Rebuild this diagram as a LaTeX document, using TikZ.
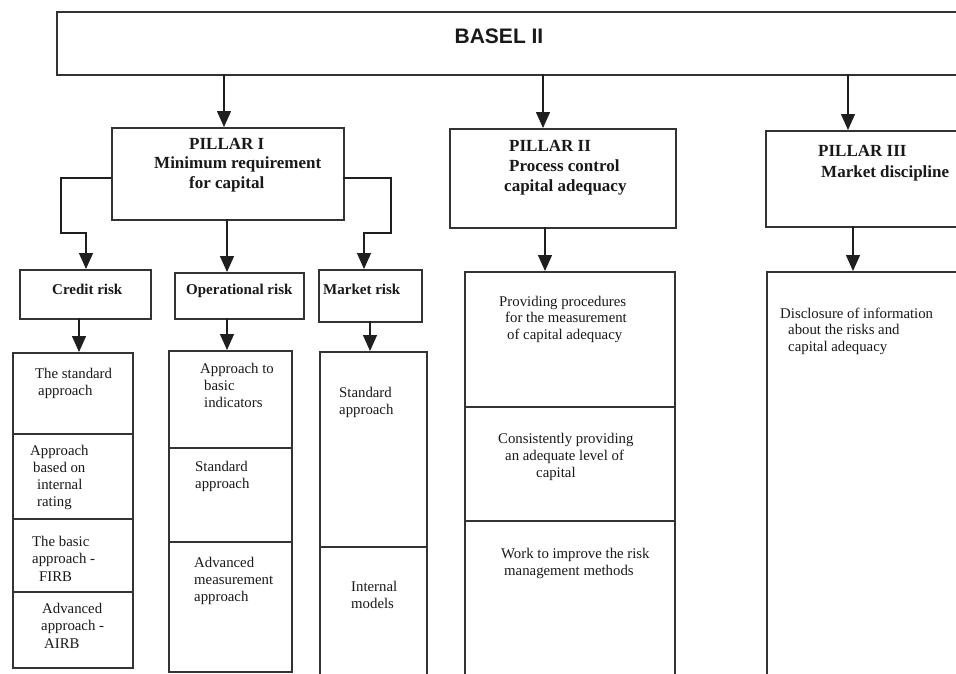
\documentclass[tikz,border=0pt]{standalone}
\usepackage{fontspec}
\setmainfont{Liberation Serif}
\newfontfamily\basefont{Liberation Sans}
\usetikzlibrary{arrows.meta}
\newcommand\tblk[2]{\vtop{\baselineskip=#1pt\lineskiplimit=-100pt\lineskip=0pt #2}}
\newcommand\myln[2]{\hbox{\kern#1pt #2}}
\newcommand\cellat[5]{\node[box, minimum width={(#4)-(#2)}, minimum height={(#5)-(#3)}] (#1) at (#2,#3) {};}
\begin{document}
\begin{tikzpicture}[x=1pt, y=-1pt, line join=miter,
  box/.style={draw=black!80, line width=1.8pt, inner sep=0pt, anchor=north west, fill=none},
  arr/.style={-{Triangle[width=14pt,length=16pt]}, line width=1.4pt, draw=black!88},
  txt/.style={anchor=base west, inner sep=0pt, font=\fontsize{14.8}{17}\selectfont, text=black!90},
  head/.style={anchor=base west, inner sep=0pt, font=\fontsize{17}{20}\selectfont\bfseries, text=black!90},
  risk/.style={anchor=base west, inner sep=0pt, font=\fontsize{15}{17}\selectfont\bfseries, text=black!90}]
\useasboundingbox (0,0) rectangle (956,673);
\clip (0,0) rectangle (956,673);
\fill[white] (0,0) rectangle (956,673);

% top box
\cellat{basel}{56}{11}{990}{74}
\node[anchor=base, inner sep=0pt, font=\basefont\bfseries\fontsize{21}{24}\selectfont, text=black!90] (baseltxt) at (499,43) {BASEL II};

% pillars
\cellat{p1}{111}{127}{343}{219}
\cellat{p2}{449}{128}{675}{227}
\cellat{p3}{765}{130}{995}{226}
\node[head] (p1t) at (189,149) {\tblk{19.5}{\myln{0}{PILLAR I}\myln{-35}{Minimum requirement}\myln{0}{for capital}}};
\node[head] (p2t) at (509,151) {\tblk{20}{\myln{0}{PILLAR II}\myln{0}{Process control}\myln{-5}{capital adequacy}}};
\node[head] (p3t) at (818,156) {\tblk{21}{\myln{0}{PILLAR III}\myln{3}{Market discipline}}};

% risk boxes
\cellat{cr}{19}{269}{150}{318}
\cellat{op}{174}{272}{303}{318}
\cellat{mk}{318}{269}{421}{321}
\node[risk] (crt) at (52,294) {Credit risk};
\node[risk] (opt) at (186,294) {Operational risk};
\node[risk] (mkt) at (323,294) {Market risk};

% credit stack
\cellat{c1}{12}{352}{132}{433}
\cellat{c2}{12}{433}{132}{518}
\cellat{c3}{12}{518}{132}{591}
\cellat{c4}{12}{591}{132}{667}
\node[txt] (c1t) at (35,378) {\tblk{17}{\myln{0}{The standard}\myln{3}{approach}}};
\node[txt] (c2t) at (30,455) {\tblk{17}{\myln{0}{Approach}\myln{3}{based on}\myln{7}{internal}\myln{7}{rating}}};
\node[txt] (c3t) at (32,546) {\tblk{17.5}{\myln{0}{The basic}\myln{0}{approach -}\myln{7}{FIRB}}};
\node[txt] (c4t) at (42,613) {\tblk{17.5}{\myln{0}{Advanced}\myln{-1}{approach -}\myln{2}{AIRB}}};

% operational stack
\cellat{o1}{168}{350}{291}{447}
\cellat{o2}{168}{447}{291}{541}
\cellat{o3}{168}{541}{291}{671}
\node[txt] (o1t) at (200,373) {\tblk{17}{\myln{0}{Approach to}\myln{4}{basic}\myln{4}{indicators}}};
\node[txt] (o2t) at (195,471) {\tblk{17}{\myln{0}{Standard}\myln{0}{approach}}};
\node[txt] (o3t) at (194,567) {\tblk{17}{\myln{0}{Advanced}\myln{0}{measurement}\myln{0}{approach}}};

% market stack
\cellat{m1}{319}{351}{426}{546}
\cellat{m2}{319}{546}{426}{700}
\node[txt] (m1t) at (339,397) {\tblk{17}{\myln{0}{Standard}\myln{0}{approach}}};
\node[txt] (m2t) at (351,591) {\tblk{17}{\myln{0}{Internal}\myln{0}{models}}};

% pillar II stack
\cellat{q1}{464}{271}{674}{406}
\cellat{q2}{464}{406}{674}{520}
\cellat{q3}{464}{520}{674}{700}
\node[txt] (q1t) at (499,306) {\tblk{16.5}{\myln{0}{Providing procedures}\myln{6}{for the measurement}\myln{8}{of capital adequacy}}};
\node[txt] (q2t) at (498,443) {\tblk{17}{\myln{0}{Consistently providing}\myln{7}{an adequate level of}\myln{38}{capital}}};
\node[txt] (q3t) at (501,558) {\tblk{17}{\myln{0}{Work to improve the risk}\myln{3}{management methods}}};

% pillar III stack
\cellat{d1}{766}{271}{1000}{700}
\node[txt] (d1t) at (780,318) {\tblk{16.5}{\myln{0}{Disclosure of information}\myln{8}{about the risks and}\myln{8}{capital adequacy}}};

% connectors
\coordinate (t1) at (224,74);
\coordinate (t2) at (543,74);
\coordinate (t3) at (848,74);
\draw[arr] (t1) -- (t1 |- p1.north);
\draw[arr] (t2) -- (t2 |- p2.north);
\draw[arr] (t3) -- (t3 |- p3.north);

\coordinate (p1l) at (111,178);
\coordinate (p1r) at (343,178);
\coordinate (p1b) at (227,219);
\coordinate (crin) at (86,269);
\coordinate (mkin) at (364,269);
\draw[arr] (p1l) -| (61,233) -| (crin);
\draw[arr] (p1r) -| (391,233) -| (mkin);
\draw[arr] (p1b) -- (p1b |- op.north);

\coordinate (crb) at (79,318);
\coordinate (opb) at (227,318);
\coordinate (mkb) at (370,321);
\coordinate (p2b) at (545,227);
\coordinate (p3b) at (853,226);
\draw[arr] (crb) -- (crb |- c1.north);
\draw[arr] (opb) -- (opb |- o1.north);
\draw[arr] (mkb) -- (mkb |- m1.north);
\draw[arr] (p2b) -- (p2b |- q1.north);
\draw[arr] (p3b) -- (p3b |- d1.north);
\end{tikzpicture}
\end{document}
